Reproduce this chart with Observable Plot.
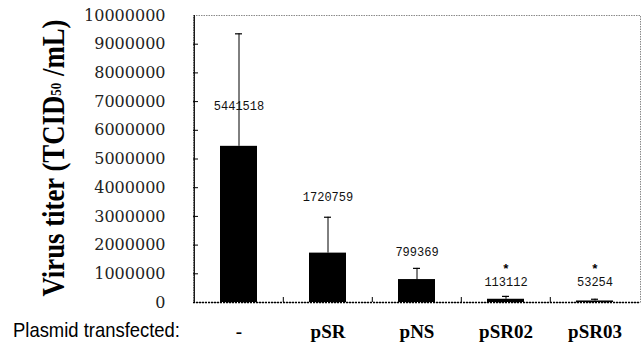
<!DOCTYPE html>
<html>
<head>
<meta charset="utf-8">
<script src="https://cdn.jsdelivr.net/npm/d3@7"></script>
<script src="https://cdn.jsdelivr.net/npm/@observablehq/plot@0.6"></script>
<style>
  html, body { margin: 0; padding: 0; background: #fff; }
  svg { display: block; }
</style>
</head>
<body>
<div id="chart"></div>
<script>
const categories = ["-", "pSR", "pNS", "pSR02", "pSR03"];
const titers = [5441518, 1720759, 799369, 113112, 53254];
const errors = [3920000, 1250000, 390000, 100000, 60000];
const valueLabels = ["5441518", "1720759", "799369", "113112", "53254"];
const labelAt = [6850000, 3660000, 1750000, 710000, 710000];
const stars = ["", "", "", "*", "*"];
const starAt = [0, 0, 0, 1190000, 1190000];
const yTicks = [0, 1000000, 2000000, 3000000, 4000000, 5000000, 6000000, 7000000, 8000000, 9000000, 10000000];

const W = 641, H = 343;
const mL = 193, mR = 1, mT = 15, mB = 41;
const plotW = W - mL - mR, plotH = H - mT - mB;
const step = plotW / categories.length;

const rows = categories.map((c, i) => ({
  cat: c, v: titers[i], top: titers[i] + errors[i],
  label: valueLabels[i], labelAt: labelAt[i], star: stars[i], starAt: starAt[i]
}));

const chart = Plot.plot({
  width: W, height: H,
  marginLeft: mL, marginRight: mR, marginTop: mT, marginBottom: mB,
  x: {domain: categories, padding: 0, axis: null},
  y: {domain: [0, 10000000], axis: null},
  style: {background: "#fff"},
  marks: [
    Plot.frame({stroke: "#8a8a8a", strokeDasharray: "1.5,1"}),
    Plot.barY(rows, {x: "cat", y: "v", fill: "black", insetLeft: 26, insetRight: 26}),
    Plot.ruleX(rows, {x: "cat", y1: "v", y2: "top", stroke: "black", strokeWidth: 1}),
    Plot.tickY(rows, {x: "cat", y: "top", stroke: "black", strokeWidth: 1.2, inset: 41}),
    Plot.text(rows, {x: "cat", y: "labelAt", text: "label", fontFamily: "Liberation Mono", fontSize: 12, fill: "#111"}),
    Plot.text(rows.filter(d => d.star), {x: "cat", y: "starAt", text: "star", fontFamily: "Liberation Mono", fontWeight: "bold", fontSize: 13, fill: "black"}),
    // y axis ticks pointing inward
    Plot.ruleY(yTicks.slice(1, -1), {y: d => d, stroke: "black", insetRight: plotW - 5}),
    Plot.axisY(yTicks, {tickSize: 0, tickPadding: 28, tickFormat: d3.format("d"), fontFamily: "DejaVu Serif", fontSize: 16, fill: "#222"}),
    // x axis band boundary ticks
    Plot.ruleX(categories.slice(1), {x: d => d, dx: -step / 2, stroke: "black", insetTop: plotH - 5}),
    // left axis line and baseline
    Plot.ruleX([categories[0]], {x: d => d, dx: -step / 2, stroke: "black", strokeWidth: 1.2}),
    Plot.ruleY([0], {stroke: "black", strokeWidth: 1.5, strokeDasharray: "2,1"}),
    // category labels
    Plot.text(categories, {x: d => d, text: d => d, frameAnchor: "bottom", lineAnchor: "bottom", dy: 35, fontFamily: "Liberation Serif", fontWeight: "bold", fontSize: 19, fill: "black"})
  ]
});

const svg = d3.select(chart);
const title = svg.append("text")
  .attr("transform", "translate(64,158) rotate(-90)")
  .attr("text-anchor", "middle")
  .attr("font-family", "Liberation Serif")
  .attr("font-weight", "bold")
  .attr("font-size", 31)
  .attr("fill", "black")
  .attr("textLength", 277)
  .attr("lengthAdjust", "spacingAndGlyphs");
title.append("tspan").text("Virus titer (TCID");
title.append("tspan").attr("font-size", 15).attr("dy", -3).text("50");
title.append("tspan").attr("dy", 3).text(" /mL)");

svg.append("text")
  .attr("x", 13).attr("y", 337)
  .attr("text-anchor", "start")
  .attr("font-family", "Liberation Sans")
  .attr("font-size", 21)
  .attr("fill", "black")
  .attr("textLength", 167)
  .attr("lengthAdjust", "spacingAndGlyphs")
  .text("Plasmid transfected:");

document.getElementById("chart").appendChild(chart);
</script>
</body>
</html>
